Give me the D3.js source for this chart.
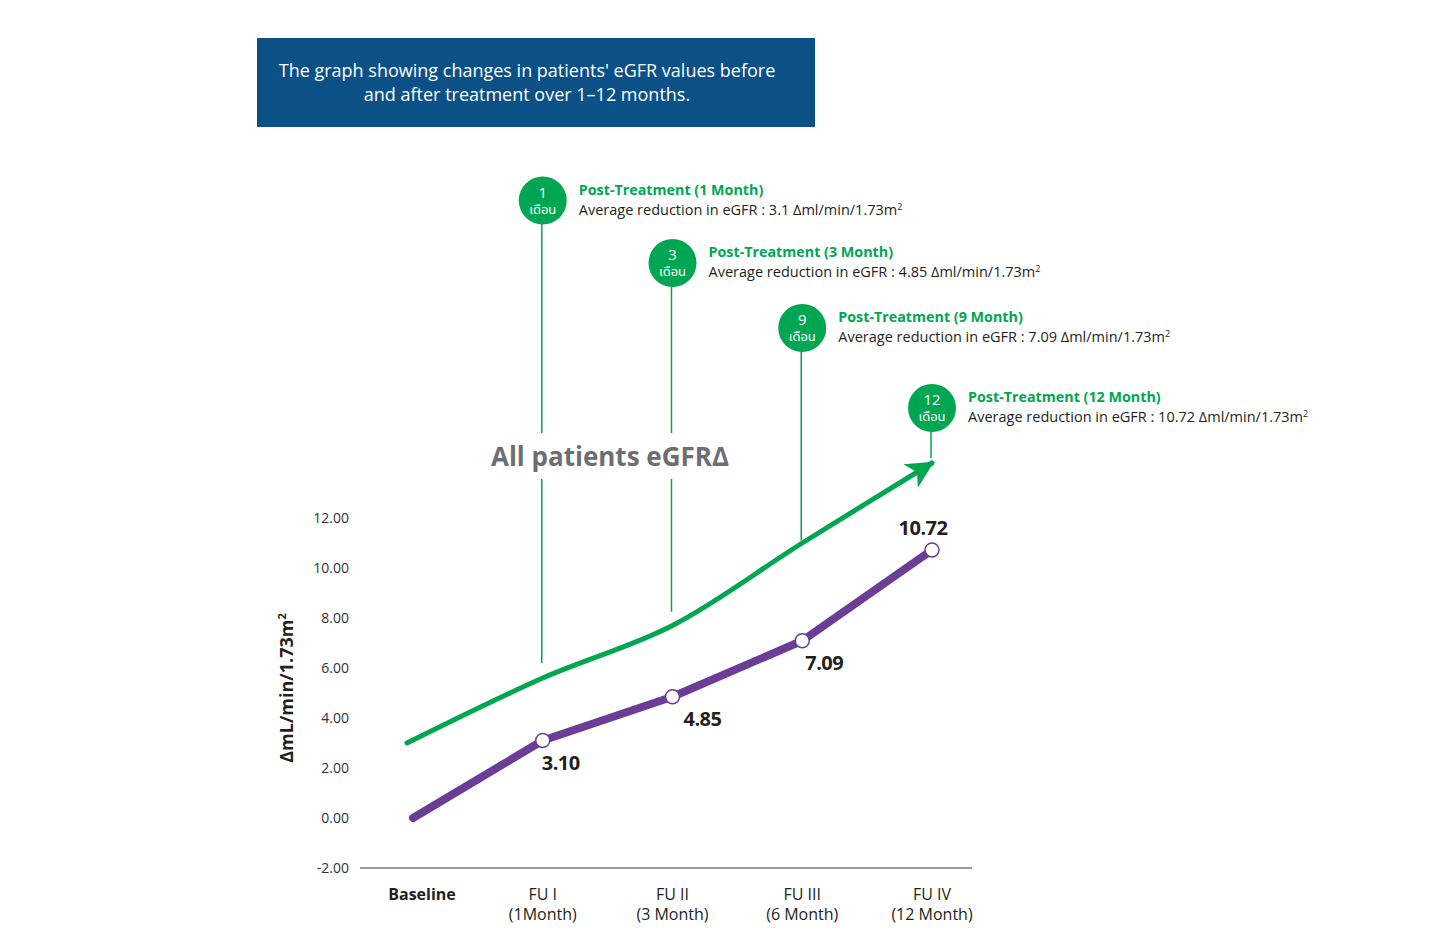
<!DOCTYPE html>
<html>
<head>
<meta charset="utf-8">
<script src="https://cdn.jsdelivr.net/npm/d3@7"></script>
<style>
  body { margin: 0; background: #fff; }
  svg { font-family: "Open Sans", "Noto Sans", sans-serif; }
</style>
</head>
<body>
<div id="chart"></div>
<script>
// data
var categories = ["Baseline", "FU I", "FU II", "FU III", "FU IV"];
var subLabels = ["", "(1Month)", "(3 Month)", "(6 Month)", "(12 Month)"];
var egfrValues = [0, 3.10, 4.85, 7.09, 10.72];
var valueLabels = ["", "3.10", "4.85", "7.09", "10.72"];
var trendValues = [3.0, 5.6, 7.7, 11.0, 14.2];
var yTicks = [-2, 0, 2, 4, 6, 8, 10, 12];

var noteMonths = ["1", "3", "9", "12"];
var noteTitles = ["Post-Treatment (1 Month)", "Post-Treatment (3 Month)", "Post-Treatment (9 Month)", "Post-Treatment (12 Month)"];
var noteReductions = ["3.1", "4.85", "7.09", "10.72"];
var noteLevels = [24.7, 22.2, 19.6, 16.4];
var stemEnds = [6.2, 8.25, 11.1, 14.4];

var width = 1440, height = 948;
var green = "#00a651", purple = "#6b3d97";

var svg = d3.select("#chart").append("svg")
    .attr("width", width)
    .attr("height", height);

var x = d3.scalePoint()
    .domain(categories)
    .range([413, 932]);
var y = d3.scaleLinear()
    .domain([-2, 12])
    .range([868, 518]);

// title box
svg.append("rect")
    .attr("x", 257).attr("y", 38)
    .attr("width", 558).attr("height", 89)
    .attr("fill", "#0b5187");
svg.append("text")
    .attr("x", 527).attr("y", 77)
    .attr("text-anchor", "middle")
    .attr("fill", "#fff")
    .style("font-size", "18px")
    .selectAll("tspan")
    .data(["The graph showing changes in patients' eGFR values before", "and after treatment over 1\u201312 months."])
    .enter().append("tspan")
    .attr("x", 527)
    .attr("dy", (d, i) => i ? 24 : 0)
    .text(d => d);

// y axis
var yAxis = g => g
    .attr("transform", "translate(352,0)")
    .call(d3.axisLeft(y).tickValues(yTicks).tickSize(0).tickFormat(d => d.toFixed(2)))
    .call(g => g.select(".domain").remove())
    .call(g => g.selectAll("text")
        .attr("fill", "#333")
        .style("font-family", "\"Open Sans\", sans-serif")
        .style("font-size", "14px"));
svg.append("g").call(yAxis);

svg.append("text")
    .attr("transform", "translate(293,688) rotate(-90)")
    .attr("text-anchor", "middle")
    .attr("fill", "#231f20")
    .style("font-size", "18px")
    .style("font-weight", "bold")
    .html("\u0394mL/min/1.73m<tspan dy='-7' font-size='11'>2</tspan>");

// x axis
svg.append("line")
    .attr("x1", 360).attr("x2", 972)
    .attr("y1", y(-2)).attr("y2", y(-2))
    .attr("stroke", "#9a9a9a")
    .attr("stroke-width", 2);

var xl = svg.append("g").selectAll("text")
    .data(categories)
    .enter().append("text")
    .attr("text-anchor", "middle")
    .attr("fill", "#231f20")
    .style("font-size", "16px")
    .style("font-weight", (d, i) => i ? "normal" : "bold")
    .attr("x", (d, i) => x(d) + (i ? 0 : 9))
    .attr("y", 900);
xl.append("tspan").text(d => d);
xl.append("tspan")
    .attr("x", (d, i) => x(d))
    .attr("dy", 20)
    .text((d, i) => subLabels[i]);

// green trend curve with arrow
svg.append("defs").append("marker")
    .attr("id", "arrow")
    .attr("viewBox", "0 -6 12 12")
    .attr("refX", 10)
    .attr("refY", 0)
    .attr("markerUnits", "userSpaceOnUse")
    .attr("markerWidth", 30)
    .attr("markerHeight", 30)
    .attr("orient", "auto")
    .append("path")
    .attr("d", "M0,-5.5 L11,0 L0,5.5 L3,0 Z")
    .attr("fill", green);

var trendLine = d3.line()
    .x((d, i) => x(categories[i]) + (i === 0 ? -6 : 0))
    .y(d => y(d))
    .curve(d3.curveCatmullRom.alpha(0.5));

svg.append("path")
    .datum(trendValues)
    .attr("d", trendLine)
    .attr("fill", "none")
    .attr("stroke", green)
    .attr("stroke-width", 5)
    .attr("stroke-linecap", "round")
    .attr("marker-end", "url(#arrow)");

// annotation stems and bubbles
var notes = noteMonths.map((m, i) => ({
    cat: categories[i + 1], month: m, title: noteTitles[i],
    red: noteReductions[i], level: noteLevels[i], end: stemEnds[i]
}));

svg.append("g").selectAll("line")
    .data(notes)
    .enter().append("line")
    .attr("x1", d => x(d.cat) - 1).attr("x2", d => x(d.cat) - 1)
    .attr("y1", d => y(d.level))
    .attr("y2", d => y(d.end))
    .attr("stroke", green)
    .attr("stroke-width", 1.5);

// centre heading with white backdrop to break stems
svg.append("rect")
    .attr("x", 480).attr("y", 433)
    .attr("width", 260).attr("height", 46)
    .attr("fill", "#fff");
svg.append("text")
    .attr("x", 610).attr("y", 466)
    .attr("text-anchor", "middle")
    .attr("fill", "#6d6e71")
    .style("font-size", "26px")
    .style("font-weight", "bold")
    .text("All patients eGFR\u0394");

var note = svg.append("g").selectAll("g")
    .data(notes)
    .enter().append("g")
    .attr("transform", d => `translate(${x(d.cat)},${y(d.level)})`);

note.append("circle")
    .attr("r", 24)
    .attr("fill", green);
note.append("text")
    .attr("y", -3)
    .attr("text-anchor", "middle")
    .attr("fill", "#fff")
    .style("font-size", "15px")
    .text(d => d.month);
note.append("text")
    .attr("y", 13)
    .attr("text-anchor", "middle")
    .attr("fill", "#fff")
    .style("font-size", "13px")
    .style("font-family", "\"Noto Sans Thai\", \"Noto Sans\", \"DejaVu Sans\", sans-serif")
    .text("เดือน");
note.append("text")
    .attr("x", 36).attr("y", -6)
    .attr("fill", green)
    .style("font-size", "14.3px")
    .style("font-weight", "bold")
    .text(d => d.title);
note.append("text")
    .attr("x", 36).attr("y", 14)
    .attr("fill", "#231f20")
    .style("font-size", "14.5px")
    .html(d => `Average reduction in eGFR : ${d.red} \u0394ml/min/1.73m<tspan dy='-5' font-size='9'>2</tspan>`);

// purple series
var line = d3.line()
    .x((d, i) => x(categories[i]))
    .y(d => y(d));

svg.append("path")
    .datum(egfrValues)
    .attr("d", line)
    .attr("fill", "none")
    .attr("stroke", purple)
    .attr("stroke-width", 8)
    .attr("stroke-linecap", "round")
    .attr("stroke-linejoin", "round");

svg.append("g").selectAll("circle")
    .data(egfrValues.slice(1))
    .enter().append("circle")
    .attr("cx", (d, i) => x(categories[i + 1]))
    .attr("cy", d => y(d))
    .attr("r", 7)
    .attr("fill", "#fff")
    .attr("stroke", purple)
    .attr("stroke-width", 1.5);

svg.append("g").selectAll("text")
    .data(egfrValues)
    .enter().append("text")
    .attr("x", (d, i) => x(categories[i]) + (i === 4 ? -9 : i === 3 ? 22 : 18 + (i === 2 ? 12 : 0)))
    .attr("y", (d, i) => y(d) + (i === 4 ? -15 : 29))
    .attr("text-anchor", "middle")
    .attr("fill", "#231f20")
    .style("font-size", "20px")
    .style("font-weight", "bold")
    .style("letter-spacing", "-0.5px")
    .text((d, i) => valueLabels[i]);
</script>
</body>
</html>
